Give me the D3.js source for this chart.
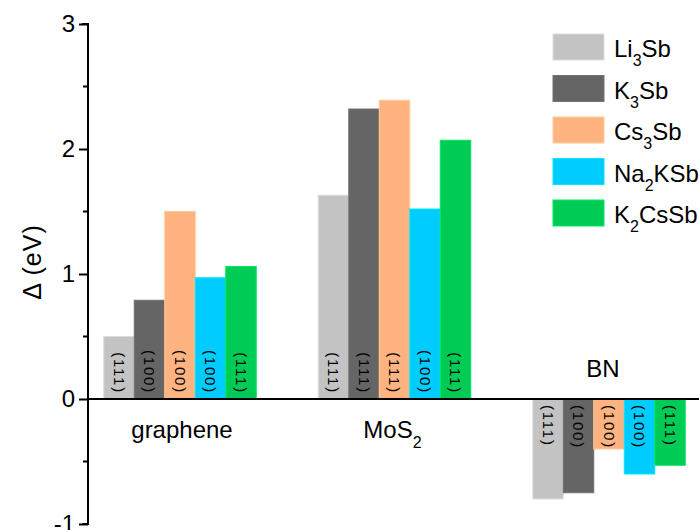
<!DOCTYPE html>
<html><head><meta charset="utf-8">
<script src="https://cdn.jsdelivr.net/npm/d3@7"></script>
<style>body{margin:0;background:#fff;} svg{display:block;font-family:"Liberation Sans",Arial,sans-serif;}</style>
</head><body>
<svg id="c" width="699" height="530"></svg>
<script>
const substrates = ["graphene", "MoS2", "BN"];
const series = ["Li3Sb", "K3Sb", "Cs3Sb", "Na2KSb", "K2CsSb"];
const colors = ["#c3c3c3", "#656565", "#ffb380", "#00ccff", "#00cc55"];
const values = {
  Li3Sb:  [0.50, 1.63, -0.80],
  K3Sb:   [0.79, 2.32, -0.75],
  Cs3Sb:  [1.50, 2.39, -0.40],
  Na2KSb: [0.97, 1.52, -0.60],
  K2CsSb: [1.06, 2.07, -0.53]
};
const facets = {
  Li3Sb:  ["(111)", "(111)", "(111)"],
  K3Sb:   ["(100)", "(111)", "(100)"],
  Cs3Sb:  ["(100)", "(111)", "(100)"],
  Na2KSb: ["(100)", "(100)", "(100)"],
  K2CsSb: ["(111)", "(111)", "(111)"]
};
const yTicks = [-1, 0, 1, 2, 3];
const yMinor = [-0.5, 0.5, 1.5, 2.5];

const svg = d3.select("#c");
const FONT = "Liberation Sans, Arial, sans-serif";
const axisX = 88;
const y = d3.scaleLinear().domain([-1, 3]).range([524, 24]);
const x0 = d3.scaleBand().domain(substrates).range([72.75, 716.25]).paddingInner(0.289).paddingOuter(0.1445);
const x1 = d3.scaleBand().domain(series).range([0, x0.bandwidth()]);
const color = d3.scaleOrdinal().domain(series).range(colors);

// bars
const data = [];
substrates.forEach((s, i) => series.forEach(k => data.push({s, k, v: values[k][i], f: facets[k][i]})));
const g = svg.append("g");
g.selectAll("rect").data(data).join("rect")
  .attr("x", d => x0(d.s) + x1(d.k))
  .attr("width", x1.bandwidth())
  .attr("y", d => y(Math.max(0, d.v)))
  .attr("height", d => Math.abs(y(d.v) - y(0)))
  .attr("fill", d => color(d.k))
  .attr("stroke", d => d3.color(color(d.k)).brighter(0.35))
  .attr("stroke-width", 1);

// facet labels
g.selectAll("text.f").data(data).join("text").attr("class", "f")
  .attr("transform", d => {
    const cx = x0(d.s) + x1(d.k) + x1.bandwidth() / 2;
    const cy = d.v >= 0 ? y(0) - 5 : y(0) + 6;
    return `translate(${cx},${cy}) rotate(90)`;
  })
  .attr("text-anchor", d => d.v >= 0 ? "end" : "start")
  .attr("dy", "0.35em")
  .attr("font-family", FONT)
  .attr("font-size", 15)
  .attr("letter-spacing", 1.8)
  .attr("fill", "#000")
  .text(d => d.f);

// zero line
svg.append("line").attr("x1", axisX).attr("x2", 699).attr("y1", y(0)).attr("y2", y(0))
  .attr("stroke", "#000").attr("stroke-width", 2);

// y axis
const ax = svg.append("g").attr("transform", `translate(${axisX},0)`)
  .call(d3.axisLeft(y).tickValues(yTicks).tickSize(9).tickPadding(4).tickFormat(d => String(d)));
ax.select(".domain").attr("stroke-width", 2).attr("d", `M-6,${y(3)}H0V${y(-1)}H-6`);
ax.selectAll(".tick line").attr("stroke-width", 2);
ax.selectAll(".tick text").attr("font-size", 24).attr("font-family", FONT).attr("fill", "#000");
ax.selectAll(".minor").data(yMinor).join("line").attr("class", "minor")
  .attr("x1", -5).attr("x2", 0).attr("y1", d => y(d)).attr("y2", d => y(d))
  .attr("stroke", "#000").attr("stroke-width", 2);

svg.append("text").attr("transform", `translate(41,262) rotate(-90)`)
  .attr("text-anchor", "middle").attr("font-family", FONT).attr("font-size", 25).attr("letter-spacing", 1).text("Δ (eV)");

// category labels
function subText(sel, parts, subSize, subDy) {
  parts.forEach(p => {
    if (p.sub) sel.append("tspan").attr("font-size", subSize).attr("dy", subDy).text(p.t);
    else sel.append("tspan").attr("dy", p.back ? -subDy : 0).text(p.t);
  });
}
const catY = {graphene: 438, MoS2: 438, BN: 377};
const catParts = {
  graphene: [{t: "graphene"}],
  MoS2: [{t: "MoS"}, {t: "2", sub: true}],
  BN: [{t: "BN"}]
};
substrates.forEach(s => {
  const dx = s === "BN" ? -6 : (s === "MoS2" ? -2 : 2);
  const t = svg.append("text").attr("x", x0(s) + x0.bandwidth() / 2 + dx).attr("y", catY[s])
    .attr("text-anchor", "middle").attr("font-family", FONT).attr("font-size", 24);
  subText(t, catParts[s], 16, 10);
});

// legend
const legParts = {
  Li3Sb: [{t: "Li"}, {t: "3", sub: true}, {t: "Sb", back: true}],
  K3Sb: [{t: "K"}, {t: "3", sub: true}, {t: "Sb", back: true}],
  Cs3Sb: [{t: "Cs"}, {t: "3", sub: true}, {t: "Sb", back: true}],
  Na2KSb: [{t: "Na"}, {t: "2", sub: true}, {t: "KSb", back: true}],
  K2CsSb: [{t: "K"}, {t: "2", sub: true}, {t: "CsSb", back: true}]
};
const leg = svg.append("g");
series.forEach((k, i) => {
  const gy = 34 + i * 41.5;
  leg.append("rect").attr("x", 553).attr("y", gy).attr("width", 51).attr("height", 26)
    .attr("fill", color(k)).attr("stroke", d3.color(color(k)).brighter(0.35)).attr("stroke-width", 1);
  const t = leg.append("text").attr("x", 614).attr("y", gy + 23).attr("font-family", FONT).attr("font-size", 24);
  subText(t, legParts[k], 16, 9);
});
</script>
</body></html>
